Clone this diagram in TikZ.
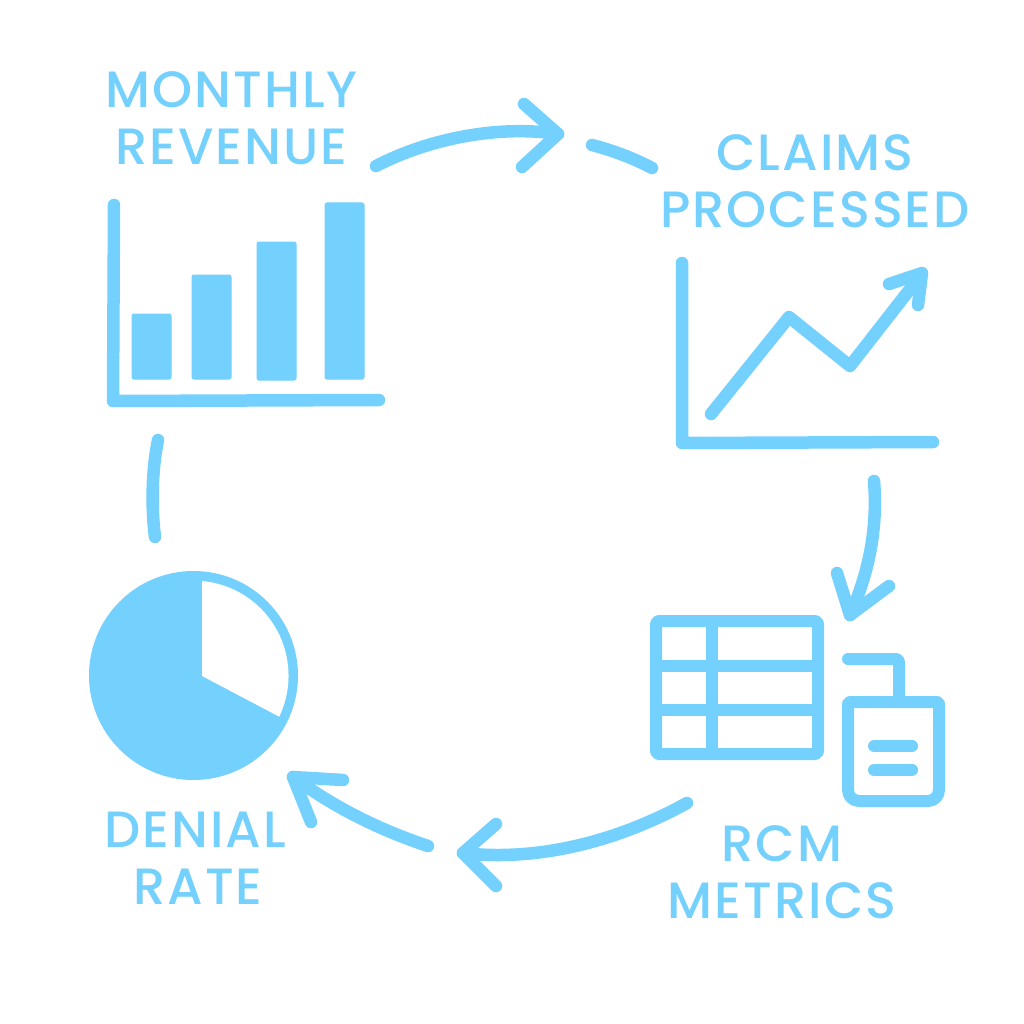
\documentclass[tikz,border=0pt]{standalone}
\usepackage{fontspec}
\setmainfont{Poppins}[UprightFont=* Medium,LetterSpace=4]
\definecolor{sky}{HTML}{74D0FD}
\tikzset{
  x=1pt,y=-1pt,
  ln/.style={draw=sky,line width=12.5pt,line cap=round,line join=round},
  thin/.style={draw=sky,line width=12pt,line cap=round,line join=round},
  fl/.style={fill=sky,draw=sky,line width=1pt,rounded corners=2pt},
  lbl/.style={text=sky,font=\fontsize{51}{57}\selectfont,align=center,inner sep=0pt},
}
\begin{document}
\begin{tikzpicture}
\useasboundingbox (0,0) rectangle (1024,1024);
\fill[white] (0,0) rectangle (1024,1024);
% labels
\node[lbl] (monthly) at (231.5,118) {MONTHLY\\REVENUE};
\node[lbl] (claims) at (815,181) {CLAIMS\\PROCESSED};
\node[lbl] (rcm) at (782,872) {RCM\\METRICS};
\node[lbl] (denial) at (195,858) {DENIAL\\\hspace*{6pt}RATE};
% bar chart
\draw[ln] (114,205) -- (113,401) -- (379,400);
\draw[fl] (132,314) rectangle (171,379);
\draw[fl] (192,275) rectangle (231,379);
\draw[fl] (257,242) rectangle (296,380);
\draw[fl] (325,203) rectangle (364,379);
% line chart
\draw[ln] (682,263) -- (682,443) -- (933,442);
\draw[ln] (711,414) -- (789,317) -- (850,366) -- (921,275);
\draw[ln] (889,284) -- (922,273) -- (918,305);
% pie
\fill[sky] (193.5,675.5) circle (104.5);
\fill[white] (202,676) -- (202,581) arc[start angle=-84.9,end angle=25.6,radius=95] -- cycle;
% table
\draw[thin,rounded corners=3pt] (656,621) rectangle (818,754);
\draw[thin,line cap=butt] (656,666) -- (818,666) (656,710) -- (818,710) (712,621) -- (712,754);
% clipboard
\draw[thin] (848,750) [rounded corners=2pt] -- (848,702) -- (939,702) -- (939,750)
  [rounded corners=11pt] -- (939,801) -- (848,801) -- cycle;
\draw[thin,rounded corners=3pt] (848,659) -- (899,659) -- (899,702);
\draw[thin] (874,746) -- (912,746) (874,770) -- (912,770);
% connectors
\coordinate (a1) at (376,166);
\coordinate (a2) at (558,134);
\coordinate (b1) at (592,145);
\coordinate (b2) at (652,168);
\coordinate (c1) at (874,481);
\coordinate (c2) at (850,615);
\coordinate (d1) at (687,803);
\coordinate (d2) at (463,853);
\coordinate (e1) at (428,846);
\coordinate (e2) at (293,777);
\coordinate (f1) at (155,537);
\coordinate (f2) at (158,440);
\draw[ln] (a1) .. controls (430,138) and (500,125) .. (a2);
\draw[ln] (524,104) -- (a2) -- (522,167);
\draw[ln] (b1) .. controls (615,151) and (635,159) .. (b2);
\draw[ln] (c1) .. controls (878,530) and (868,575) .. (c2);
\draw[ln] (837,573) -- (c2) -- (889,586);
\draw[ln] (d1) .. controls (620,840) and (540,862) .. (d2);
\draw[ln] (496,824) -- (d2) -- (496,886);
\draw[ln] (e1) .. controls (380,830) and (335,808) .. (e2);
\draw[ln] (343,780) -- (e2) -- (311,822);
\draw[ln] (f1) .. controls (151,505) and (152,470) .. (f2);
\end{tikzpicture}
\end{document}
